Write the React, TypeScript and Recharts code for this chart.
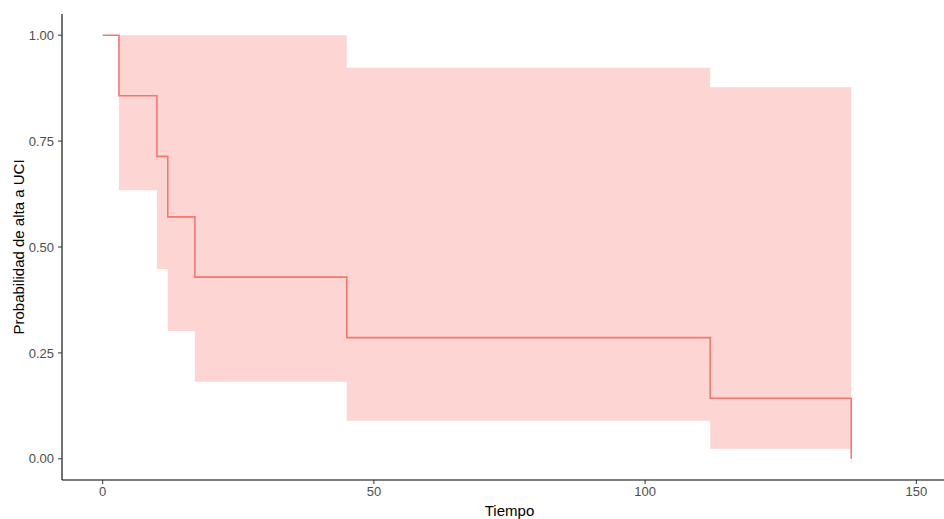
import React from "react";
import { ComposedChart, Line, Area, XAxis, YAxis } from "recharts";

const times = [0, 3, 10, 12, 17, 45, 112, 138];
const surv = [1, 0.857, 0.714, 0.571, 0.429, 0.286, 0.143, 0];
const lower = [null, 0.634, 0.448, 0.302, 0.182, 0.09, 0.024, 0.024];
const upper = [null, 1, 1, 1, 1, 0.923, 0.877, 0.877];
const xTicks = [0, 50, 100, 150];
const yTicks = [0, 0.25, 0.5, 0.75, 1];

const data = times.map((t, i) => ({
  t,
  s: surv[i],
  ci: lower[i] == null ? null : [lower[i], upper[i]],
}));

const COLOR = "#F8766D";
const FONT = "'Liberation Sans', Arial, sans-serif";

export default function App() {
  return (
    <div style={{ position: "absolute", left: 0, top: 0, width: 944, height: 519, overflow: "hidden", background: "#fff" }}>
      <ComposedChart
        width={957}
        height={519}
        data={data}
        margin={{ top: 14, right: 0, bottom: 0, left: 0 }}
        style={{ fontFamily: FONT }}
      >
        <XAxis
          dataKey="t"
          type="number"
          domain={[-7.5, 157.5]}
          ticks={xTicks}
          allowDataOverflow
          height={39}
          tickSize={4}
          tickMargin={3}
          axisLine={{ stroke: "#000", strokeWidth: 1.1 }}
          tickLine={{ stroke: "#333" }}
          tick={{ fill: "#4D4D4D", fontSize: 13, fontFamily: FONT }}
          label={{
            content: (props: any) => {
              const vb = props.viewBox;
              return (
                <text x={vb.x + vb.width / 2} y={516} textAnchor="middle" fill="#000" fontSize={15} fontFamily={FONT}>
                  Tiempo
                </text>
              );
            },
          }}
        />
        <YAxis
          type="number"
          domain={[-0.05, 1.05]}
          ticks={yTicks}
          allowDataOverflow
          width={62}
          tickSize={4}
          tickMargin={4}
          tickFormatter={(v: number) => v.toFixed(2)}
          axisLine={{ stroke: "#000", strokeWidth: 1.1 }}
          tickLine={{ stroke: "#333" }}
          tick={{ fill: "#4D4D4D", fontSize: 13, fontFamily: FONT }}
          label={{
            content: (props: any) => {
              const vb = props.viewBox;
              const cy = vb.y + vb.height / 2;
              return (
                <text x={24} y={cy} transform={`rotate(-90, 24, ${cy})`} textAnchor="middle" fill="#000" fontSize={15} fontFamily={FONT}>
                  Probabilidad de alta a UCI
                </text>
              );
            },
          }}
        />
        <Area
          dataKey="ci"
          type="stepAfter"
          fill={COLOR}
          fillOpacity={0.3}
          stroke="none"
          isAnimationActive={false}
          connectNulls={false}
          activeDot={false}
        />
        <Line
          dataKey="s"
          type="stepAfter"
          stroke={COLOR}
          strokeWidth={1.6}
          dot={false}
          activeDot={false}
          isAnimationActive={false}
        />
      </ComposedChart>
    </div>
  );
}
